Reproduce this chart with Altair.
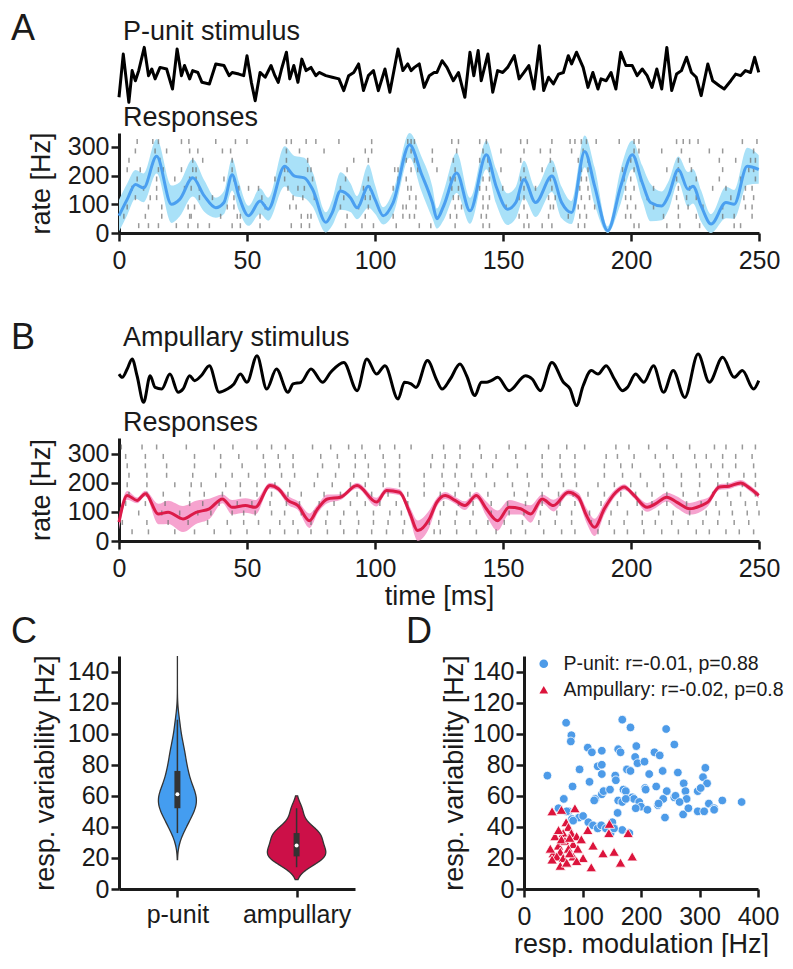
import altair as alt
import pandas as pd

FONT = "Liberation Sans"
INK = "#1a1a1a"
BLUE_LINE = "#4a9ff0"
BLUE_BAND = "#a9e1f8"
RED_LINE = "#dc1a48"
RED_BAND = "#f6a3cf"
BLUE_PT = "#4d9be8"
RED_PT = "#dc143c"
VIOLIN_BLUE = "#449df0"
VIOLIN_RED = "#cc1048"

# ---------------- Panel A: P-unit stimulus ----------------
stimA_t = [0.0, 1.67, 3.85, 5.13, 6.41, 7.7, 9.87, 11.54, 12.82, 14.1, 16.03, 18.6, 20.9, 22.7, 24.4,
           25.6, 27.6, 28.8, 30.8, 32.4, 35.3, 37.8, 41.0, 43.0, 44.2, 46.8, 48.7, 50.0, 51.7, 53.2,
           55.1, 57.1, 59.4, 60.9, 62.2, 63.5, 65.4, 66.7, 68.3, 69.9, 71.4, 73.1, 75.0, 76.9, 78.2,
           80.8, 83.3, 85.9, 87.8, 89.7, 91.7, 93.6, 95.5, 97.4, 99.4, 101.3, 103.9, 105.8, 109.0, 110.9,
           112.8, 114.1, 115.4, 117.3, 119.2, 121.2, 123.1,
           124.2, 126.2, 128.1, 130.6, 132.6, 135.1, 137.1, 138.6, 140.3, 141.5, 144.1, 146.0, 147.9, 149.9, 151.8,
           154.4, 156.3, 158.2, 160.1, 162.1, 164.2, 165.9, 167.8, 169.7, 171.7, 173.6, 175.5, 176.8, 178.7, 181.3,
           183.2, 185.1, 187.1, 188.3, 190.3, 192.2, 194.1, 196.0, 198.0, 200.5, 202.4, 204.4, 206.3, 208.2, 210.1,
           212.0, 214.0, 215.9, 217.8, 219.7, 221.7, 223.6, 225.5, 227.4, 230.0, 231.9, 234.5, 236.4, 239.0, 240.9,
           242.8, 244.7, 246.7, 248.3, 249.9]
stimA_amp = [-0.81, 0.81, -1.0, 0.19, -0.19, 0.19, 1.06, 0, 0.25, -0.12, 0.31, 0.25, -0.5, 1.0, 0,
             0.38, -0.12, 0.19, 0.12, -0.25, -0.31, 0.44, 0.38, 0, 0.12, 0.06, 0, 0.75, -0.25, -0.94,
             0.12, -0.06, 0.38, 0, -0.25, 0.25, 0.88, -0.12, 0.38, -0.25, 0.62, 0.19, 0.31, 0, 0.12,
             0, -0.06, -0.12, -0.56, 0, 0.12, 0.44, -0.56, 0, 0.19, -0.56, 0.25, -0.62, 1.0, 0.19,
             0.44, 0.19, 0.31, 0.44, -0.44, 0, 0.12,
             0.12, 0.56, 0.31, -0.19, 0.12, -0.81, 0.88, 0, 0.94, -0.19, 0.81, -0.62, 0.19, 0.12, 0.31,
             0.75, -0.12, 0.12, 0.38, -0.5, 1.12, -0.56, -0.06, -0.31, 0.06, 0.12, 0.75, 0.44, 0.88, 0.31,
             -0.44, 0.12, -0.5, -0.12, -0.19, 0.12, -0.5, 0.88, 0.38, 0.38, 0, 0.25, 0, -0.44, 0.25,
             -0.5, 1.06, -0.56, 0.06, 0.19, 0.69, 0.12, -0.06, -0.75, 0.44, -0.19, -0.38, -0.5, -0.19, 0.06,
             0, 0.19, 0.12, 0.69, 0.12]

# ---------------- Panel A: P-unit responses ----------------
rateA_t = [0.0, 3.2, 6.4, 9.6, 14.7, 20.5, 23.7, 28.8, 33.3, 37.8, 41.0, 44.2, 46.8, 50.6, 55.1,
           58.3, 64.7, 68.6, 72.4, 75.6, 80.8, 83.3, 86.5, 90.4, 93.0, 97.4, 100.0, 103.2, 107.1, 113.5,
           118.0, 122.4, 124.2, 126.8, 131.9, 137.1, 143.5, 147.3, 151.8, 155.0, 158.2, 162.7, 169.1, 172.9, 176.8,
           181.9, 185.8, 190.9, 196.0, 200.5, 204.4, 207.6, 212.0, 214.6, 218.5, 222.3, 224.2, 227.4, 231.3, 237.1,
           240.3, 245.4, 249.9]
rateA = [60, 117, 169, 157, 267, 100, 117, 192, 129, 88, 106, 203, 129, 60, 111,
         83, 232, 198, 192, 152, 37, 71, 146, 123, 88, 163, 117, 60, 106, 307,
         209, 106, 50, 94, 209, 77, 272, 163, 83, 106, 186, 106, 198, 106, 71,
         284, 163, 8, 163, 272, 175, 106, 94, 129, 221, 152, 163, 94, 31, 106,
         100, 232, 221]
rateA_sd = [55, 55, 50, 50, 60, 65, 60, 65, 55, 35, 40, 55, 50, 35, 45,
            40, 70, 70, 70, 60, 35, 45, 65, 50, 40, 75, 50, 30, 40, 45,
            60, 55, 35, 50, 70, 45, 50, 60, 55, 55, 65, 50, 55, 55, 40,
            55, 65, 15, 60, 50, 60, 65, 50, 50, 45, 60, 60, 55, 35, 55,
            50, 65, 50]

spikesA = [
    [7.1, 13.2, 15.4, 24.4, 27.3, 37.8, 45.5, 50.0, 65.4, 67.3, 73.1, 76.9, 85.9, 98.7, 112.8, 114.1, 115.4, 130.0, 132.6, 140.9, 143.5, 156.9, 159.5, 169.1, 176.2, 178.1, 180.6, 182.6, 186.4, 195.4, 201.2, 203.1, 217.8, 220.4, 222.9, 226.2, 243.5, 249.2],
    [6.4, 14.1, 18.6, 27.6, 30.8, 40.4, 43.6, 65.4, 70.5, 80.1, 96.2, 98.7, 114.1, 122.4, 131.9, 142.2, 149.2, 158.2, 164.6, 168.5, 176.8, 181.3, 201.2, 203.1, 212.0, 219.7, 230.6, 235.8, 247.9],
    [3.9, 16.0, 28.8, 32.7, 44.2, 65.4, 73.7, 91.7, 97.4, 112.2, 115.4, 122.4, 130.6, 140.9, 144.1, 156.9, 168.5, 179.4, 183.2, 199.9, 201.8, 218.5, 222.9, 234.5, 240.9, 246.7, 248.6],
    [3.2, 8.3, 15.4, 17.3, 24.4, 28.8, 30.1, 44.2, 64.7, 66.0, 73.7, 75.0, 89.1, 107.7, 109.0, 114.1, 116.7, 124.2, 131.3, 141.5, 144.7, 149.2, 158.2, 165.3, 169.7, 180.6, 183.2, 196.7, 201.2, 214.0, 218.5, 223.6, 235.8, 246.0, 247.9],
    [7.1, 14.7, 21.8, 27.6, 30.1, 41.0, 44.9, 60.9, 64.7, 75.6, 88.5, 97.4, 109.0, 112.2, 129.4, 131.3, 142.2, 144.7, 156.9, 158.8, 168.5, 180.6, 182.6, 197.3, 199.9, 203.7, 217.8, 225.5, 234.5, 242.8, 248.6],
    [5.1, 9.6, 14.7, 25.6, 28.2, 31.4, 46.8, 50.6, 54.5, 66.0, 69.9, 72.4, 86.5, 95.5, 98.1, 107.1, 112.8, 114.1, 130.0, 132.6, 140.9, 143.5, 149.9, 158.2, 162.7, 169.1, 180.0, 183.2, 197.9, 201.2, 208.8, 218.5, 222.9, 231.9, 237.1, 244.7, 247.3],
    [6.4, 12.2, 14.7, 31.4, 36.5, 44.9, 55.8, 68.0, 71.8, 76.3, 87.8, 96.2, 98.1, 113.5, 116.0, 130.6, 132.6, 142.2, 144.7, 156.3, 158.2, 167.8, 170.4, 180.6, 183.8, 197.9, 199.9, 206.3, 217.8, 221.7, 225.5, 239.0, 244.1, 247.9],
    [3.2, 11.5, 16.7, 27.0, 29.5, 42.3, 44.9, 57.1, 66.7, 69.2, 86.5, 93.6, 97.4, 110.9, 112.2, 116.0, 131.3, 133.8, 142.2, 144.1, 151.2, 158.2, 168.5, 169.7, 179.4, 181.9, 185.8, 198.6, 201.8, 208.8, 218.5, 222.3, 228.1, 235.8, 244.7, 247.3],
    [1.9, 10.3, 16.7, 27.6, 28.2, 39.7, 46.2, 47.4, 55.1, 71.2, 73.7, 75.0, 89.1, 96.2, 107.1, 110.9, 113.5, 115.4, 129.4, 131.9, 141.5, 143.5, 156.3, 159.5, 167.8, 175.5, 180.0, 182.6, 197.9, 199.9, 212.7, 218.5, 225.5, 235.8, 240.3, 247.3],
    [7.7, 11.5, 15.4, 22.4, 27.0, 30.8, 35.3, 44.2, 47.4, 55.1, 67.3, 71.2, 74.4, 88.5, 94.9, 99.4, 108.3, 117.3, 121.8, 131.3, 142.2, 144.7, 158.2, 160.1, 165.3, 169.1, 179.4, 181.9, 201.2, 203.1, 214.0, 219.1, 226.8, 240.3, 242.8],
]

# ---------------- Panel B: Ampullary stimulus ----------------
stimB_t = [0.0, 1.28, 3.2, 5.13, 7.05, 9.62, 12.18, 14.1, 16.7, 19.9, 23.1, 25.0, 27.6, 29.5, 32.1,
           35.3, 39.1, 42.3, 44.9, 47.4, 50.0, 53.9, 57.7, 61.5, 66.0, 68.0, 71.2, 75.0, 79.5, 82.7,
           87.8, 93.0, 96.8, 100.6, 103.9, 109.0, 111.5, 114.1, 116.0, 120.5,
           124.2, 126.2, 129.4, 133.2, 135.8, 139.0, 141.5, 143.5, 145.4, 147.9, 152.4, 158.8, 161.4, 164.6, 169.1,
           173.6, 176.2, 178.7, 181.3, 184.5, 187.1, 190.3, 193.5, 196.7, 198.6, 201.8, 205.0, 208.8, 212.7, 216.5,
           221.0, 226.2, 230.6, 235.8, 240.3, 243.5, 247.9, 249.9]
stimB_amp = [0.21, 0.07, 0.43, 0.86, 0.14, -1.0, 0.14, -0.36, -0.43, 0.21, -0.57, -0.43, 0.14, -0.07, 0.14,
             0.57, -0.57, -0.43, -0.21, 0.21, -0.14, 1.0, -0.43, 0.43, -0.57, -0.21, -0.14, 0.43, -0.14, 0.29,
             0.71, -0.5, 0.86, 0.21, 0.57, -0.86, -0.14, -0.21, -0.36, 0.79,
             -0.07, -0.43, 0.0, 0.64, 0.14, -0.71, -0.14, -0.14, -0.07, 0.07, -0.5, 0.14, 0.0, -0.5, 0.71,
             -0.14, -0.43, -1.14, -0.29, 0.36, 0.21, 0.57, 0.0, -0.5, -0.36, 0.21, -0.14, 0.57, -0.57, 0.36,
             -0.79, 1.07, -0.14, 0.93, 0.07, 0.36, -0.43, -0.07]

# ---------------- Panel B: Ampullary responses ----------------
rateB_t = [0.0, 3.2, 7.05, 10.3, 15.4, 19.2, 25.0, 30.1, 35.3, 40.4, 44.2, 49.4, 53.2, 59.0, 62.2,
           66.0, 69.9, 74.4, 77.6, 81.4, 86.5, 93.0, 100.6, 104.5, 109.6, 113.5, 116.7, 121.2,
           124.2, 127.4, 131.3, 135.1, 139.6, 143.5, 147.9, 152.4, 156.9, 160.8, 165.3, 169.7, 175.5, 179.4,
           182.6, 185.8, 189.6, 194.1, 197.3, 201.2, 206.3, 209.5, 214.0, 217.8, 222.9, 227.4, 230.0, 234.5,
           238.3, 242.8, 246.7, 249.9]
rateB = [65, 157, 140, 163, 93, 99, 76, 99, 111, 145, 116, 122, 116, 191, 180,
         140, 122, 70, 111, 145, 151, 191, 134, 174, 168, 99, 36, 76,
         134, 157, 140, 122, 157, 111, 70, 116, 111, 93, 145, 122, 168, 151,
         88, 47, 111, 168, 186, 157, 116, 128, 151, 134, 111, 122, 134, 186,
         189, 200, 180, 157]
rateB_sd = [25, 15, 10, 10, 35, 40, 45, 40, 35, 15, 25, 25, 25, 10, 10,
            15, 15, 25, 15, 15, 10, 10, 15, 10, 10, 20, 35, 30,
            15, 12, 12, 15, 12, 25, 35, 25, 20, 30, 15, 20, 10, 15,
            25, 30, 20, 12, 10, 10, 15, 15, 15, 20, 20, 20, 15, 10,
            10, 10, 10, 10]

spikesB = [
    [0.9, 9.0, 14.7, 26.3, 37.2, 44.5, 53.9, 59.6, 65.0, 75.6, 82.7, 89.7, 94.9, 101.9, 107.7, 114.1, 126.8, 133.2, 140.9, 152.4, 158.8, 167.8, 174.9, 181.9, 194.1, 199.2, 206.9, 214.0, 222.9, 232.6, 237.1, 243.5, 248.6],
    [2.6, 10.3, 17.3, 29.5, 39.7, 46.8, 56.4, 62.2, 68.0, 78.8, 85.3, 92.3, 96.2, 103.2, 109.6, 122.4, 127.4, 133.2, 141.5, 147.3, 155.0, 165.3, 172.3, 178.1, 190.3, 194.7, 201.2, 209.5, 216.5, 224.9, 229.4, 235.8, 240.9, 247.3],
    [3.2, 10.3, 18.6, 29.5, 39.7, 48.1, 57.1, 62.8, 68.0, 79.5, 85.9, 92.3, 97.4, 103.9, 109.6, 121.8, 126.8, 131.9, 138.3, 146.0, 155.6, 165.3, 172.3, 178.1, 189.6, 196.0, 200.5, 211.4, 217.8, 225.5, 231.3, 235.8, 240.9, 247.9],
    [3.9, 10.9, 18.6, 28.8, 37.8, 44.2, 50.6, 57.1, 63.5, 68.6, 77.6, 84.6, 91.7, 97.4, 103.9, 109.6, 119.2, 126.2, 131.3, 137.7, 143.5, 151.8, 159.5, 165.3, 172.9, 178.1, 189.6, 196.7, 203.7, 212.7, 219.7, 226.8, 233.9, 238.3, 244.1, 248.6],
    [3.2, 10.9, 21.8, 28.2, 32.1, 41.7, 47.4, 53.9, 60.9, 66.7, 76.3, 83.3, 90.4, 96.2, 103.2, 109.6, 119.2, 126.8, 132.6, 139.0, 146.7, 153.7, 160.1, 167.8, 173.6, 178.7, 187.1, 193.5, 199.9, 206.3, 212.7, 219.7, 226.8, 233.9, 237.7, 243.5, 248.6],
    [3.9, 10.9, 17.3, 27.6, 33.3, 40.4, 47.4, 53.9, 59.6, 66.0, 71.2, 80.1, 86.5, 93.0, 98.7, 105.1, 112.8, 119.2, 125.5, 131.3, 137.1, 144.1, 154.4, 159.5, 165.3, 171.7, 177.4, 183.2, 189.6, 196.0, 201.8, 208.2, 214.0, 220.4, 226.2, 231.9, 237.7, 242.8, 248.6],
    [2.6, 10.3, 18.0, 27.6, 32.7, 39.1, 46.2, 51.9, 59.0, 65.4, 70.5, 78.2, 84.0, 90.4, 96.2, 101.9, 108.3, 112.8, 126.8, 132.6, 138.3, 145.4, 151.8, 158.8, 165.3, 172.3, 178.1, 188.3, 194.7, 202.4, 208.2, 214.0, 221.7, 227.4, 233.2, 239.0, 244.7, 249.2],
    [0.6, 7.7, 16.7, 23.7, 30.8, 35.9, 44.2, 48.7, 53.2, 59.6, 64.7, 71.2, 76.3, 81.4, 87.8, 93.0, 99.4, 105.8, 110.3, 113.5, 125.5, 131.9, 138.3, 145.4, 152.4, 158.2, 164.6, 171.0, 176.8, 183.8, 192.2, 198.6, 204.4, 210.8, 216.5, 222.9, 229.4, 234.5, 239.6, 245.4, 250.0],
    [1.3, 10.9, 19.2, 27.0, 34.6, 42.3, 48.7, 54.5, 62.8, 68.0, 75.0, 80.8, 86.5, 93.6, 99.4, 105.1, 111.5, 121.2, 124.9, 131.3, 137.1, 144.1, 150.5, 157.6, 164.0, 170.4, 176.8, 184.5, 191.5, 197.3, 204.4, 209.5, 215.9, 222.3, 228.1, 233.9, 240.3, 246.0],
    [5.1, 11.5, 21.8, 29.5, 37.2, 43.6, 50.0, 59.0, 64.7, 69.9, 75.0, 81.4, 87.8, 93.0, 98.7, 104.5, 110.9, 123.1, 125.5, 131.9, 139.6, 147.3, 153.1, 158.8, 165.9, 172.9, 178.1, 187.1, 193.5, 198.6, 205.0, 212.0, 218.5, 225.5, 230.6, 237.1, 242.3, 247.9],
]

# ---------------- Panels C/D: per-cell modulation and variability ----------------
punit_mod = [72, 168, 182, 243, 81, 80, 257, 109, 116, 133, 161, 165, 192, 190, 194, 206, 223, 232, 40, 95,
             126, 133, 133, 112, 83, 156, 157, 176, 182, 214, 237, 263, 310, 306, 313, 273, 297, 302, 244, 257,
             259, 276, 278, 339, 372, 68, 122, 133, 136, 147, 170, 174, 207, 208, 226, 161, 168, 185, 188, 197,
             229, 238, 316, 325, 59, 76, 82, 94, 101, 110, 118, 126, 132, 140, 151, 160, 168, 180, 148, 241,
             297, 308, 325, 272, 281, 200, 211, 191, 230, 266, 154, 73, 84, 120, 174]
punit_var = [107, 109, 104, 103, 99, 95, 93, 91, 88, 89, 90, 88, 92, 85, 81, 82, 88, 86, 73, 77,
             79, 80, 74, 69, 66, 73, 70, 77, 76, 74, 76, 75, 78, 72, 68, 68, 63, 65, 63, 59,
             60, 63, 58, 57, 56, 58, 58, 61, 63, 64, 64, 63, 65, 64, 66, 57, 56, 59, 58, 56,
             54, 58, 55, 52, 52, 50, 45, 46, 47, 43, 41, 39, 41, 39, 43, 49, 38, 36, 36, 46,
             50, 50, 51, 48, 52, 53, 51, 52, 55, 56, 39, 50, 44, 57, 58]
ampul_mod = [48, 64, 87, 72, 76, 53, 67, 81, 90, 109, 146, 145, 178, 59, 70, 84, 98, 50, 62, 76,
             92, 118, 45, 56, 67, 84, 101, 135, 154, 185, 165, 115, 62, 73, 90, 48, 78, 64, 59, 78]
ampul_var = [50, 51, 52, 43, 40, 34, 36, 36, 34, 38, 42, 36, 36, 28, 31, 29, 32, 23, 24, 26,
             26, 28, 26, 21, 20, 21, 20, 23, 24, 21, 17, 14, 15, 17, 18, 19, 23, 32, 38, 33]

P_LABEL = "P-unit: r=-0.01, p=0.88"
A_LABEL = "Ampullary: r=-0.02, p=0.8"

# ---------------------------------------------------------------------------
XT = alt.Scale(domain=[0, 250], nice=False)
ROW_W = 640


def note(text, x, y, size):
    return alt.Chart(pd.DataFrame({"s": [text]})).mark_text(
        align="left", baseline="alphabetic", font=FONT, fontSize=size, color=INK
    ).encode(text="s:N", x=alt.value(x), y=alt.value(y))


def spikes_frame(rows):
    recs = []
    for k, row in enumerate(rows):
        for t in row:
            recs.append({"t": t, "trial": k})
    return pd.DataFrame(recs)


def row_panel(st, sa, sdom, sh, interp, letter, letter_y, stitle, stitle_y,
              t, rate, sd, spikes, top_row, ymax, H, rh, line_color, band_color, xtitle, resp_y):
    if xtitle:
        xaxis = alt.Axis(values=[0, 50, 100, 150, 200, 250], title=xtitle, titlePadding=2)
    else:
        xaxis = alt.Axis(values=[0, 50, 100, 150, 200, 250], title=None)
    stim = alt.Chart(pd.DataFrame({"t": st, "amp": sa})).mark_line(
        color="black", strokeWidth=3, interpolate=interp, strokeJoin="round"
    ).encode(
        x=alt.X("t:Q", scale=XT, axis=xaxis),
        y=alt.Y("amp:Q", scale=alt.Scale(domain=sdom, range=[sh, 0], nice=False, zero=False), axis=None),
    )
    df = pd.DataFrame({"t": t, "rate": rate, "sd": sd})
    ys = alt.Scale(domain=[0, ymax], range=[H, H - rh], nice=False)
    yaxis = alt.Axis(values=[0, 100, 200, 300], title="rate [Hz]", titlePadding=12, orient="left")
    band = alt.Chart(df).transform_calculate(
        lo="max(0, datum.rate - datum.sd)", hi="min(datum.rate + datum.sd, %d)" % ymax
    ).mark_area(color=band_color, opacity=1, interpolate="monotone").encode(
        x=alt.X("t:Q", scale=XT, axis=xaxis),
        y=alt.Y("lo:Q", scale=ys, axis=yaxis),
        y2="hi:Q",
    )
    raster = alt.Chart(spikes_frame(spikes)).transform_calculate(
        ypos=f"{top_row} - 32.5 * datum.trial"
    ).mark_tick(orient="vertical", size=5, thickness=1.5, color="#6e6e6e").encode(
        x=alt.X("t:Q", scale=XT, axis=xaxis),
        y=alt.Y("ypos:Q", scale=ys, axis=yaxis),
    )
    line = alt.Chart(df).mark_line(color=line_color, strokeWidth=3, interpolate="monotone").encode(
        x=alt.X("t:Q", scale=XT, axis=xaxis),
        y=alt.Y("rate:Q", scale=ys, axis=yaxis),
    )
    resp = alt.layer(band, raster, line)
    return alt.layer(
        stim, resp,
        note(letter, -108, letter_y, 36),
        note(stitle, 4, stitle_y, 27),
        note("Responses", 4, resp_y, 27),
    ).resolve_scale(y="independent").properties(width=ROW_W, height=H)


rowA = row_panel(stimA_t, stimA_amp, [-1.1, 1.225], 62, "linear", "A", -3, "P-unit stimulus", -3,
                 rateA_t, rateA, rateA_sd, spikesA, 318, 348, 190, 100, BLUE_LINE, BLUE_BAND, None, 83)
rowB = row_panel(stimB_t, stimB_amp, [-1.243, 1.329], 60, "monotone", "B", 1, "Ampullary stimulus", -2,
                 rateB_t, rateB, rateB_sd, spikesB, 324, 355, 193, 103, RED_LINE, RED_BAND, "time [ms]", 83)

# ---------------- Panel C: violins ----------------
vs = alt.Scale(domain=[0, 150], nice=False)
vaxis = alt.Axis(values=[0, 20, 40, 60, 80, 100, 120, 140], title="resp. variability [Hz]", titlePadding=8)
cs = alt.Scale(domain=[-0.49, 1.49], nice=False, zero=False)
caxis = alt.Axis(values=[0, 1], labelExpr="datum.value == 0 ? 'p-unit' : 'ampullary'", title=None, labelPadding=5)
K = 7.0


def violin_layers(vals, center, extent, color):
    base = alt.Chart(pd.DataFrame({"v": vals}))
    area = base.transform_density("v", as_=["v", "density"], extent=extent, steps=200).transform_calculate(
        lo=f"{center} - datum.density * {K}", hi=f"{center} + datum.density * {K}"
    ).mark_area(orient="horizontal", fill=color, fillOpacity=1, stroke="#333333", strokeWidth=1.3,
                interpolate="monotone").encode(
        y=alt.Y("v:Q", scale=vs, axis=vaxis),
        x=alt.X("lo:Q", scale=cs, axis=caxis),
        x2="hi:Q",
    )
    cb = base.transform_calculate(c=str(center))
    whisk = cb.mark_rule(color="#333333", strokeWidth=1.5).encode(
        x=alt.X("c:Q", scale=cs, axis=caxis),
        y=alt.Y("min(v):Q", scale=vs, axis=vaxis),
        y2="max(v)",
    )
    box = cb.mark_rule(color="#333333", strokeWidth=6, strokeCap="butt").encode(
        x=alt.X("c:Q", scale=cs, axis=caxis),
        y=alt.Y("q1(v):Q", scale=vs, axis=vaxis),
        y2="q3(v)",
    )
    med = cb.mark_point(filled=True, fill="white", color="white", size=16, opacity=1).encode(
        x=alt.X("c:Q", scale=cs, axis=caxis),
        y=alt.Y("median(v):Q", scale=vs, axis=vaxis),
    )
    return [area, whisk, box, med]


panelC = alt.layer(
    *violin_layers(punit_var, 0, [19, 150], VIOLIN_BLUE),
    *violin_layers(ampul_var, 1, [6, 60], VIOLIN_RED),
    note("C", -108, -13, 36),
).properties(width=236, height=233)

# ---------------- Panel D: scatter ----------------
dxs = alt.Scale(domain=[0, 400], nice=False)
dxaxis = alt.Axis(values=[0, 100, 200, 300, 400], title="resp. modulation [Hz]", titlePadding=2)
dyaxis = alt.Axis(values=[0, 20, 40, 60, 80, 100, 120, 140], title="resp. variability [Hz]", titlePadding=4)
cscale = alt.Scale(domain=[P_LABEL, A_LABEL], range=[BLUE_PT, RED_PT])
sscale = alt.Scale(domain=[P_LABEL, A_LABEL], range=["circle", "triangle-up"])
leg = alt.Legend(title=None, orient="none", legendX=415, legendY=611, labelFontSize=19.5, labelFont=FONT,
                 labelColor=INK, labelLimit=600, symbolSize=75, labelOffset=10, rowPadding=5, padding=0,
                 symbolStrokeWidth=0)

df_p = pd.DataFrame({"mod": punit_mod, "var": punit_var, "group": P_LABEL})
df_a = pd.DataFrame({"mod": ampul_mod, "var": ampul_var, "group": A_LABEL})


def scatter(df, size):
    return alt.Chart(df).mark_point(filled=True, size=size, stroke="white", strokeWidth=0.8, opacity=1).encode(
        x=alt.X("mod:Q", scale=dxs, axis=dxaxis),
        y=alt.Y("var:Q", scale=vs, axis=dyaxis),
        color=alt.Color("group:N", scale=cscale, legend=leg),
        shape=alt.Shape("group:N", scale=sscale, legend=leg),
    )


panelD = alt.layer(scatter(df_p, 75), scatter(df_a, 110), note("D", -118, -13, 36)).properties(
    width=234, height=233)

rowCD = alt.hconcat(panelC, panelD, spacing=169, bounds="flush")

chart = alt.vconcat(rowA, rowB, rowCD, spacing=115, bounds="flush").properties(
    padding={"left": 3, "top": 3, "right": 0, "bottom": 0}, background="white"
).configure_axis(
    domainWidth=3, domainColor=INK, tickColor=INK, tickWidth=2.5, tickSize=8,
    labelFont=FONT, labelFontSize=25, labelColor=INK, labelFlush=False,
    titleFont=FONT, titleFontSize=27, titleFontWeight="normal", titleColor=INK, grid=False,
).configure_axisX(labelPadding=7).configure_axisY(labelPadding=2).configure_view(stroke=None)

chart.save("out.html", embed_options={"renderer": "svg", "actions": False})
